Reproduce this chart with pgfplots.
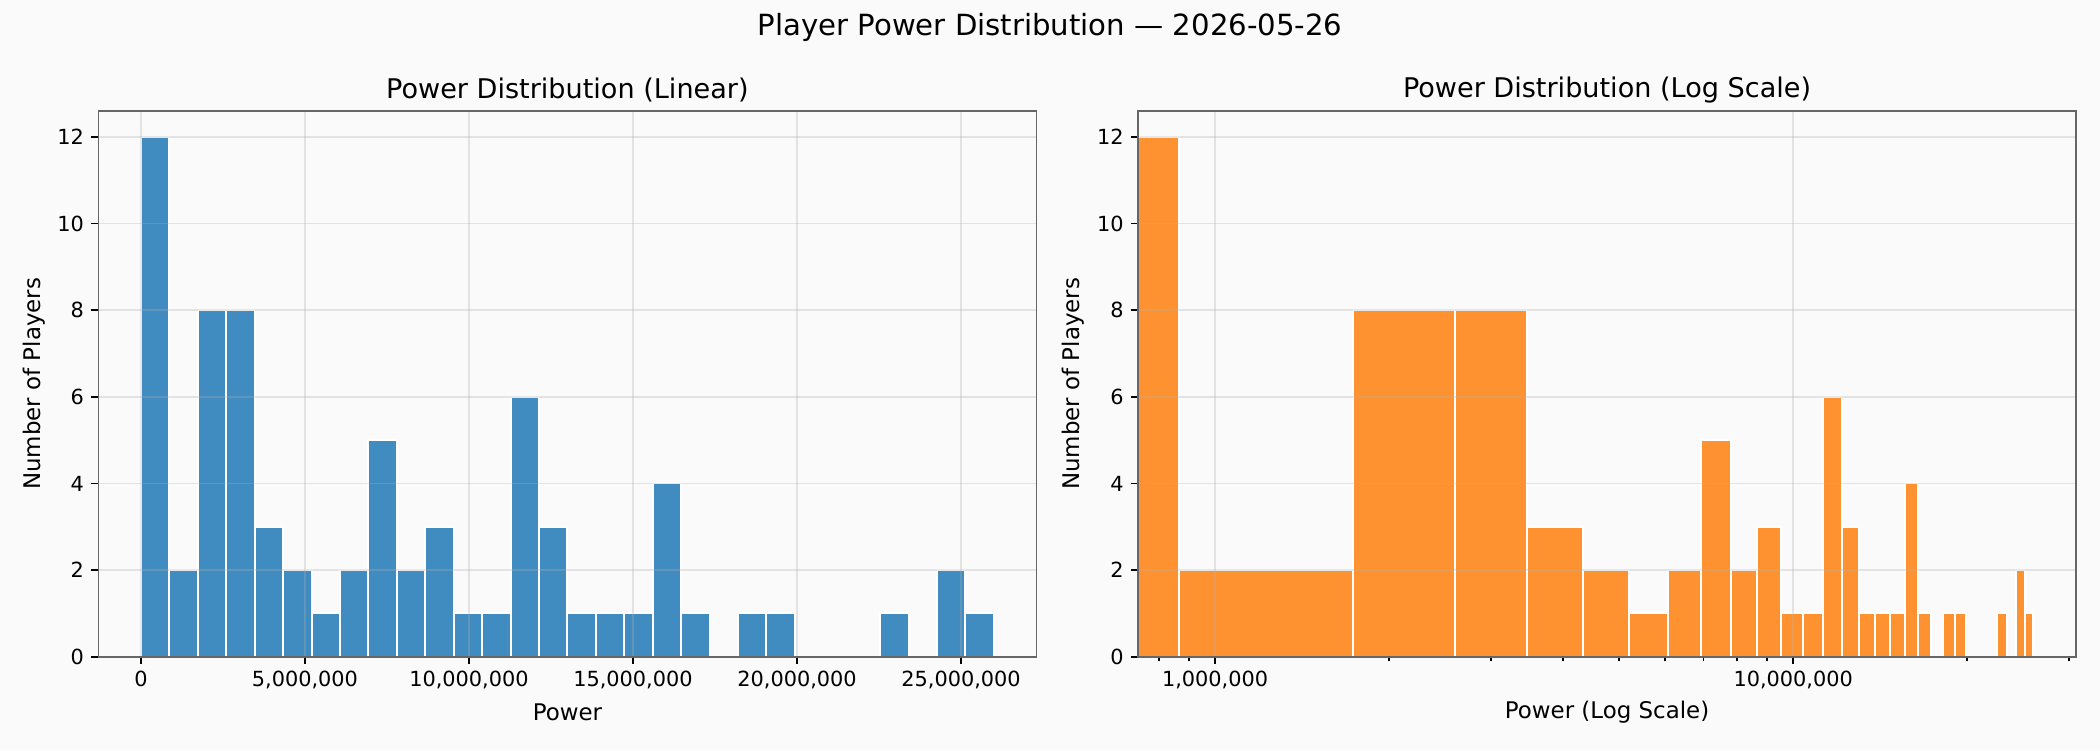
\documentclass[border=0pt]{standalone}
\usepackage{fontspec}
\setmainfont{DejaVu Sans}
\usepackage{pgfplots}
\usepackage{pgfplotstable}
\pgfplotsset{compat=1.18}

\definecolor{figbg}{RGB}{250,250,250}
\definecolor{barblue}{RGB}{64,139,191}
\definecolor{barorange}{RGB}{254,146,49}
\definecolor{spinegray}{RGB}{102,102,102}
\definecolor{gridgray}{RGB}{176,176,176}

% Histogram counts: 30 equal bins of width 866,667 between 0 and 26,000,000.
% Column "edge" is the left edge of each bin; the last row closes the final bin.
\pgfplotstableread{
edge      count
0         12
866667    2
1733333   8
2600000   8
3466667   3
4333333   2
5200000   1
6066667   2
6933333   5
7800000   2
8666667   3
9533333   1
10400000  1
11266667  6
12133333  3
13000000  1
13866667  1
14733333  1
15600000  4
16466667  1
17333333  0
18200000  1
19066667  1
19933333  0
20800000  0
21666667  0
22533333  1
23400000  0
24266667  2
25133333  1
26000000  1
}\powerbins

% Same bins for the log axis; the first bin begins at zero, which a log axis
% cannot show, so it starts left of the visible range and is clipped there.
\pgfplotstableread{
edge      count
500000    12
866667    2
1733333   8
2600000   8
3466667   3
4333333   2
5200000   1
6066667   2
6933333   5
7800000   2
8666667   3
9533333   1
10400000  1
11266667  6
12133333  3
13000000  1
13866667  1
14733333  1
15600000  4
16466667  1
17333333  0
18200000  1
19066667  1
19933333  0
20800000  0
21666667  0
22533333  1
23400000  0
24266667  2
25133333  1
26000000  1
}\powerbinslog

\pgfplotsset{
  histaxis/.style={
    scale only axis,
    width=450.3pt, height=261.9pt,
    ymin=0, ymax=12.6,
    ytick={0,2,4,6,8,10,12},
    axis background/.style={fill=figbg},
    axis line style={spinegray, line width=0.8pt},
    tick style={black, line width=0.8pt},
    major tick length=3.4pt,
    minor tick length=1.9pt,
    tick align=outside,
    xtick pos=bottom, ytick pos=left,
    xmajorgrids, ymajorgrids,
    major grid style={gridgray, opacity=0.3, line width=0.8pt},
    axis on top,
    scaled x ticks=false,
    ticklabel style={font=\fontsize{10}{12}\selectfont},
    /pgf/number format/assume math mode=true,
    label style={font=\fontsize{11}{13}\selectfont},
    xlabel style={at={(axis description cs:0.5,0)}, anchor=center, yshift=-26.6pt},
    ylabel style={at={(axis description cs:-0.0686,0.5)}, anchor=center},
    title style={font=\fontsize{13}{15}\selectfont, at={(axis description cs:0.5,1)}, anchor=center, yshift=4.1pt},
    ylabel={Number of Players},
  },
}

\begin{document}
\begin{tikzpicture}
  \fill[figbg] (0,0) rectangle (1008pt,360pt);
  \path[use as bounding box] (0,0) rectangle (1008pt,360pt);

  \node[font=\fontsize{14}{17}\selectfont, anchor=center] at (504pt,347pt)
    {Player Power Distribution — 2026-05-26};

  % Linear axis
  \begin{axis}[
    histaxis,
    at={(47.2pt,44.8pt)}, anchor=south west,
    xmin=-1300000, xmax=27300000,
    xtick={0,5000000,10000000,15000000,20000000,25000000},
    xticklabels={0,{5,000,000},{10,000,000},{15,000,000},{20,000,000},{25,000,000}},
    xlabel={Power},
    title={Power Distribution (Linear)},
  ]
    \addplot[ybar interval, fill=barblue, draw=white, line width=0.96pt]
      table[x=edge, y=count] {\powerbins};
  \end{axis}

  % Log axis
  \begin{axis}[
    histaxis,
    at={(546.2pt,44.8pt)}, anchor=south west,
    xmode=log,
    xmin=735500, xmax=30870000,
    xtick={1000000,10000000},
    xticklabels={{1,000,000},{10,000,000}},
    minor xtick={800000,900000,2000000,3000000,4000000,5000000,6000000,7000000,8000000,9000000,20000000,30000000},
    xlabel={Power (Log Scale)},
    title={Power Distribution (Log Scale)},
  ]
    \addplot[ybar interval, fill=barorange, draw=white, line width=0.96pt]
      table[x=edge, y=count] {\powerbinslog};
  \end{axis}
\end{tikzpicture}
\end{document}
